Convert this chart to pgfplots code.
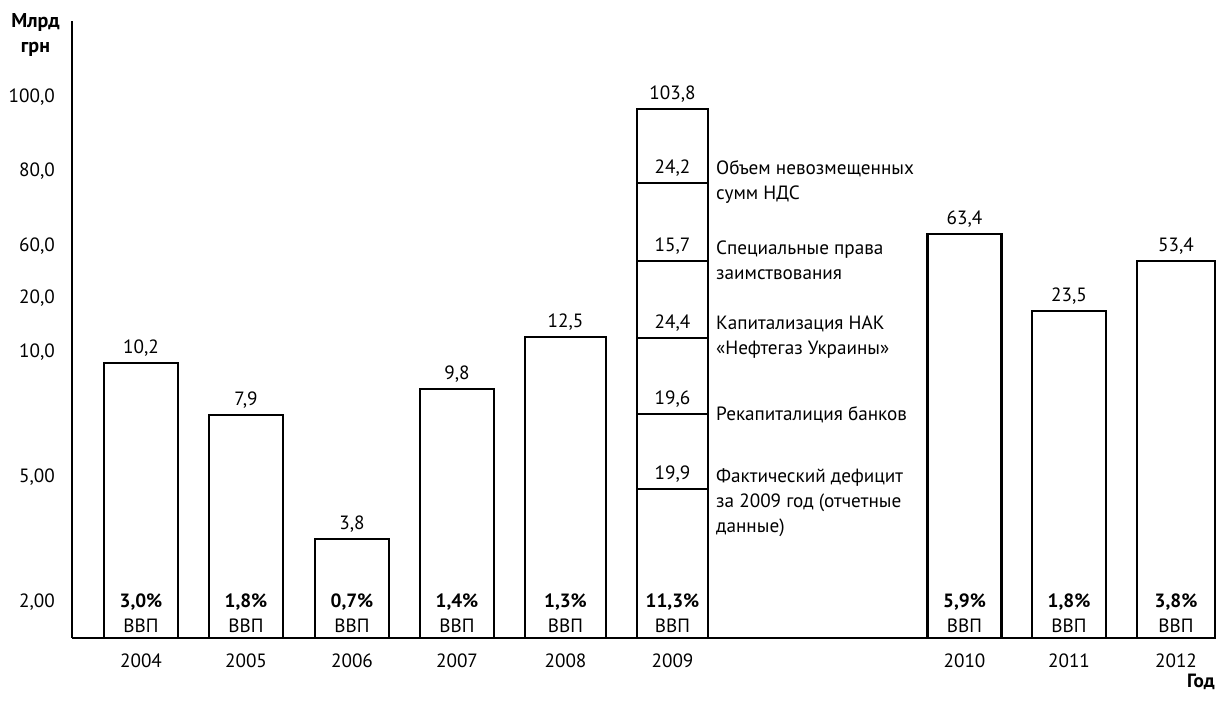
\documentclass[border=0pt]{standalone}
\usepackage{fontspec}
\setmainfont{PT Sans}
\usepackage{pgfplots}
\usepackage{pgfplotstable}
\pgfplotsset{compat=1.18}
\newcommand\fs{\fontsize{19.2}{25}\selectfont}

% heights are read in the chart's own (non-linear) drawing units
\pgfplotstableread{
x h lab
141 275 {10,2}
246 223 {7,9}
352 99 {3,8}
457 249 {9,8}
964.5 404 {63,4}
1069 327 {23,5}
}\mainbars
\pgfplotstableread{
x h lab
672.5 529 {103,8}
672.5 455 {24,2}
672.5 377 {15,7}
672.5 300 {24,4}
672.5 224 {19,6}
672.5 149 {19,9}
}\stack

\begin{document}
\begin{tikzpicture}
\useasboundingbox (0,0) rectangle (1216pt,706pt);
\begin{axis}[
  at={(72pt,68pt)}, anchor=south west,
  scale only axis, width=1144pt, height=617pt,
  xmin=72, xmax=1216, ymin=0, ymax=617,
  axis x line=bottom, axis y line=left,
  axis line style={-, line width=2pt, black},
  clip=false,
  major tick length=0pt,
  xtick={141,246,352,457,565.5,672.5,964.5,1069,1176},
  xticklabels={2004,2005,2006,2007,2008,2009,2010,2011,2012},
  ytick={36,161,286,340,392,467,541},
  yticklabels={{2,00},{5,00},{10,0},{20,0},{60,0},{80,0},{100,0}},
  tick label style={font=\fs},
  /pgf/number format/assume math mode=true,
  xticklabel style={anchor=north, inner sep=0pt, text depth=0pt, yshift=-16pt},
  yticklabel style={anchor=east, inner sep=0pt, xshift=-17pt},
  every node near coord/.append style={font=\fs, inner sep=0pt, text depth=0pt, yshift=8.5pt, black},
  bars/.style={ybar, fill=white, draw=black, line width=2.2pt, nodes near coords, point meta=explicit symbolic},
]
\addplot[bars, bar width=74pt] table[x=x, y=h, meta=lab] {\mainbars};
\addplot[bars, bar width=81pt] table[meta=lab] {
x h lab
565.5 301 {12,5}
};
\addplot[bars, bar width=78pt] table[meta=lab] {
x h lab
1176 377 {53,4}
};
\addplot[bars, bar width=71pt] table[x=x, y=h, meta=lab] {\stack};

\foreach \xx/\pp in {141/{3,0},246/{1,8},352/{0,7},457/{1,4},565.5/{1,3},672.5/{11,3},964.5/{5,9},1069/{1,8},1176/{3,8}}{
  \edef\tmp{\noexpand\node[font=\noexpand\fs, align=center, inner sep=0pt] at (axis cs:\xx,25) {\noexpand\textbf{\pp\noexpand\%}\noexpand\\ВВП};}
  \tmp
}
\node[font=\fs, align=left, anchor=west, inner sep=0pt] at (axis cs:716,455.5) {Объем невозмещенных\\сумм НДС};
\node[font=\fs, align=left, anchor=west, inner sep=0pt] at (axis cs:716,377.5) {Специальные права\\заимствования};
\node[font=\fs, align=left, anchor=west, inner sep=0pt] at (axis cs:716,301) {Капитализация НАК\\«Нефтегаз Украины»};
\node[font=\fs, align=left, anchor=west, inner sep=0pt] at (axis cs:716,223) {Рекапиталиция банков};
\node[font=\fs, align=left, anchor=west, inner sep=0pt] at (axis cs:716,135) {Фактический дефицит\\за 2009 год (отчетные\\данные)};
\end{axis}
\node[font=\fontsize{20}{25}\selectfont\bfseries, align=center, inner sep=0pt] at (35.5pt,670.5pt) {Млрд\\грн};
\node[font=\fs\bfseries, anchor=east, inner sep=0pt] at (1215pt,24pt) {Год};
\end{tikzpicture}
\end{document}
